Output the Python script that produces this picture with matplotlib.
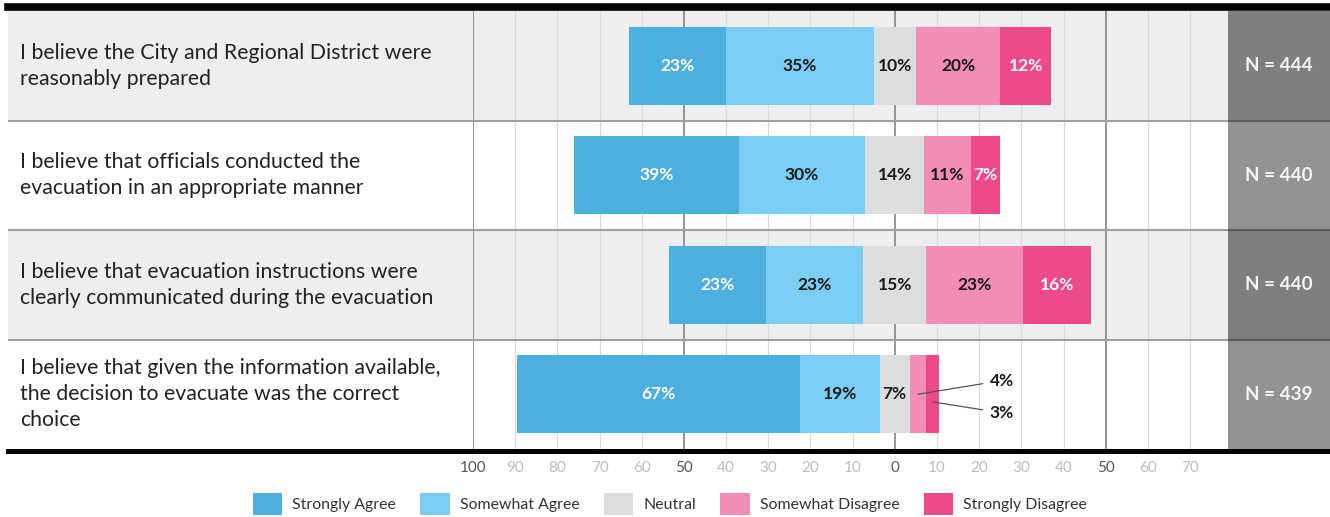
import matplotlib
matplotlib.use("Agg")
import matplotlib.pyplot as plt
from matplotlib.patches import Patch
from matplotlib.lines import Line2D

plt.rcParams['font.family'] = ['Lato', 'DejaVu Sans']

statements = [
    "I believe the City and Regional District were\nreasonably prepared",
    "I believe that officials conducted the\nevacuation in an appropriate manner",
    "I believe that evacuation instructions were\nclearly communicated during the evacuation",
    "I believe that given the information available,\nthe decision to evacuate was the correct\nchoice",
]
categories = ["Strongly Agree", "Somewhat Agree", "Neutral", "Somewhat Disagree", "Strongly Disagree"]
strongly_agree = [23, 39, 23, 67]
somewhat_agree = [35, 30, 23, 19]
neutral = [10, 14, 15, 7]
somewhat_disagree = [20, 11, 23, 4]
strongly_disagree = [12, 7, 16, 3]
n_values = [444, 440, 440, 439]
tick_values = list(range(-100, 80, 10))

colors = ['#4DAEE0', '#7BCDF3', '#DCDDDF', '#F28DB5', '#EC4A8B']
text_colors = ['white', '#1a1a1a', '#1a1a1a', '#1a1a1a', 'white']
row_bg = ['#EDEEF0', 'white', '#EDEEF0', 'white']
n_bg = ['#7F7F82', '#939396', '#7F7F82', '#939396']

W, H = 1330, 517
fig = plt.figure(figsize=(W / 100, H / 100), dpi=100)


def fx(px):
    return px / W


def fy(py):
    return 1 - py / H


top, bottom = 11, 449
ax_h = (bottom - top) / H
ax_lab = fig.add_axes([fx(8), fy(bottom), fx(473) - fx(8), ax_h])
ax = fig.add_axes([fx(473), fy(bottom), fx(1228) - fx(473), ax_h])
ax_n = fig.add_axes([fx(1228), fy(bottom), fx(1330) - fx(1228), ax_h])

for a in (ax_lab, ax, ax_n):
    a.set_ylim(3.5, -0.5)
    for s in a.spines.values():
        s.set_visible(False)
    a.set_yticks([])

# label column
ax_lab.set_xlim(0, 465)
ax_lab.set_xticks([])
for i, s in enumerate(statements):
    ax_lab.axhspan(i - 0.5, i + 0.5, color=row_bg[i], zorder=0)
    ax_lab.text(12, i, s, ha='left', va='center', fontsize=15.3, color='#222222', linespacing=1.36)
for b in (0.5, 1.5, 2.5):
    ax_lab.axhline(b, color='#a0a0a0', lw=1.5)

# N column
ax_n.set_xlim(0, 1)
ax_n.set_xticks([])
for i, n in enumerate(n_values):
    ax_n.axhspan(i - 0.5, i + 0.5, color=n_bg[i], zorder=0)
    ax_n.text(0.5, i, f"N = {n}", ha='center', va='center', fontsize=13.6,
              fontweight='bold', color='#f4f4f4')
for b in (0.5, 1.5, 2.5):
    ax_n.axhline(b, color='#5a5a5a', lw=1.5)

# bar area
ax.set_xlim(-100, 79)
for i in range(4):
    ax.axhspan(i - 0.5, i + 0.5, color=row_bg[i], zorder=0)
for t in tick_values:
    if t in (-100, -50, 0, 50):
        ax.axvline(t, color='#8c8c8c', lw=1.3, zorder=1)
    else:
        ax.axvline(t, color='#dadada', lw=0.9, zorder=1)
for b in (0.5, 1.5, 2.5):
    ax.axhline(b, color='#a0a0a0', lw=1.5, zorder=1)

series = [strongly_agree, somewhat_agree, neutral, somewhat_disagree, strongly_disagree]
for i in range(4):
    left = -(strongly_agree[i] + somewhat_agree[i] + neutral[i] / 2)
    outside = 0
    for k, vals in enumerate(series):
        v = vals[i]
        ax.barh(i, v, left=left, height=0.71, color=colors[k], zorder=3)
        cx = left + v / 2
        if v >= 5:
            ax.text(cx, i, f"{v}%", ha='center', va='center', fontsize=12.5,
                    fontweight='bold', color=text_colors[k], zorder=4)
        else:
            # small segments get an outside label with a leader line
            dy = [-0.125, 0.17][outside]
            ay = [0.0, 0.07][outside]
            ax.annotate(f"{v}%", xy=(cx, i + ay), xytext=(22.5, i + dy),
                        ha='left', va='center', fontsize=12.5, fontweight='bold',
                        color='#1a1a1a', zorder=5,
                        arrowprops=dict(arrowstyle='-', color='#555555', lw=0.9,
                                        shrinkA=3, shrinkB=0))
            outside += 1
        left += v

ax.set_xticks(tick_values)
ax.set_xticklabels([str(abs(t)) for t in tick_values])
ax.tick_params(axis='x', length=0, pad=9, labelsize=11)
for lbl, t in zip(ax.get_xticklabels(), tick_values):
    lbl.set_color('#555555' if t in (-100, -50, 0, 50) else '#bdbdbd')

# top and bottom black rules
fig.add_artist(Line2D([fx(8), 1], [fy(7), fy(7)], color='black', lw=5.5, transform=fig.transFigure))
fig.add_artist(Line2D([fx(8), 1], [fy(450.5), fy(450.5)], color='black', lw=3.6, transform=fig.transFigure))

handles = [Patch(facecolor=c, label=l) for c, l in zip(colors, categories)]
leg = fig.legend(handles=handles, loc='center', bbox_to_anchor=(fx(670), fy(504)), ncol=5,
                 frameon=False, fontsize=11.4, handlelength=1.85, handleheight=1.75,
                 handletextpad=0.65, columnspacing=1.52, borderpad=0)
for txt in leg.get_texts():
    txt.set_color('#333333')

fig.savefig("out.png", dpi=100)
